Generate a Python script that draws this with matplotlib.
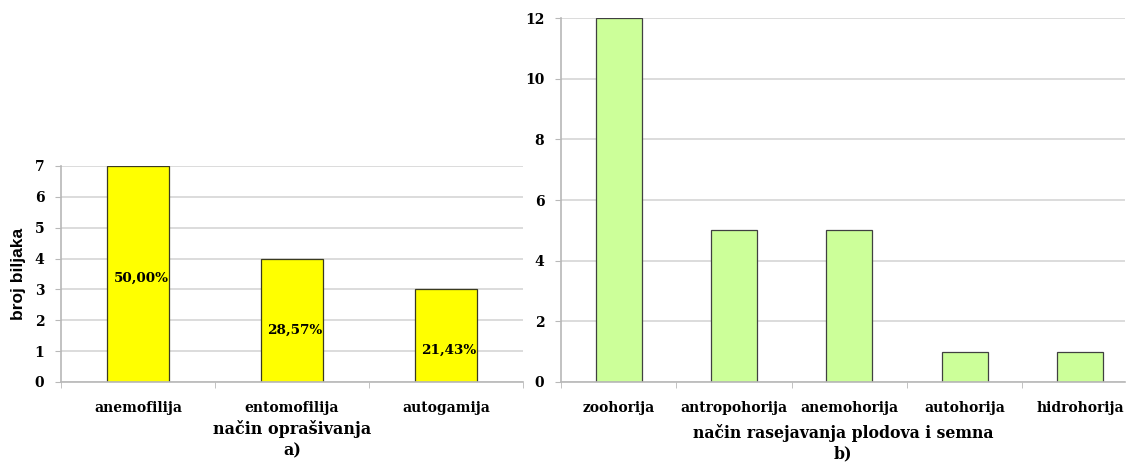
import numpy as np
import matplotlib
matplotlib.use('Agg')
import matplotlib.pyplot as plt

# a) nacin oprasivanja
pollination = ['anemofilija', 'entomofilija', 'autogamija']
pollination_counts = [7, 4, 3]
pollination_pct = ['50,00%', '28,57%', '21,43%']

# b) nacin rasejavanja plodova i semna
dispersal = ['zoohorija', 'antropohorija', 'anemohorija', 'autohorija', 'hidrohorija']
dispersal_counts = [12, 5, 5, 1, 1]

# where Excel put the percentage labels (data units)
pct_label_y = [3.35, 1.66, 1.04]

serif = 'DejaVu Serif'
grid_col = '#D9D9D9'
axis_col = '#B8B8B8'


def style_axes(ax, n, xmax):
    for side in ['top', 'right']:
        ax.spines[side].set_visible(False)
    for side in ['left', 'bottom']:
        ax.spines[side].set_color(axis_col)
        ax.spines[side].set_linewidth(1.2)
    ax.grid(axis='y', color=grid_col, linewidth=1.3)
    ax.set_axisbelow(True)
    ax.set_xticks(np.arange(n))
    ax.set_xticks(np.arange(n + 1) - 0.5, minor=True)
    ax.set_xlim(-0.5, xmax)  # after the ticks, they stretch the limits
    ax.tick_params(axis='x', which='major', length=0, pad=14)
    ax.tick_params(axis='x', which='minor', length=4, color=axis_col)
    ax.tick_params(axis='y', length=4, color=axis_col, pad=8)
    for lab in ax.get_xticklabels() + ax.get_yticklabels():
        lab.set_fontfamily(serif)
        lab.set_fontweight('bold')
        lab.set_fontsize(10)


fig = plt.figure(figsize=(11.29, 4.63), dpi=100)

# left chart
ax1 = fig.add_axes([0.054, 0.175, 0.4092, 0.4665])
x1 = np.arange(len(pollination))
ax1.bar(x1, pollination_counts, width=0.4, color='#FFFF00',
        edgecolor='#3A3A20', linewidth=0.9)
ax1.set_ylim(0, 7)
ax1.set_yticks(range(0, 8))
ax1.set_xticklabels(pollination)
style_axes(ax1, len(pollination), 2.5)
for xi, yi, txt in zip(x1, pct_label_y, pollination_pct):
    ax1.text(xi + 0.02, yi, txt, ha='center', va='center',
             family=serif, weight='bold', fontsize=9.7)
ax1.set_ylabel('broj biljaka', family='Liberation Sans', weight='bold',
               fontsize=12.5, labelpad=6)
ax1.set_xlabel('način oprašivanja\na)', family=serif, weight='bold',
               fontsize=11.5, labelpad=3, linespacing=1.4)

# right chart
ax2 = fig.add_axes([0.4969, 0.175, 0.4995, 0.786])
x2 = np.arange(len(dispersal))
ax2.bar(x2, dispersal_counts, width=0.4, color='#CCFF99',
        edgecolor='#404040', linewidth=0.9)
ax2.set_ylim(0, 12)
ax2.set_yticks(range(0, 13, 2))
ax2.set_xticklabels(dispersal)
style_axes(ax2, len(dispersal), 4.39)
ax2.set_xlabel('način rasejavanja plodova i semna\nb)', family=serif,
               weight='bold', fontsize=11.3, labelpad=6, linespacing=1.3)

fig.savefig('out.png', dpi=100)
